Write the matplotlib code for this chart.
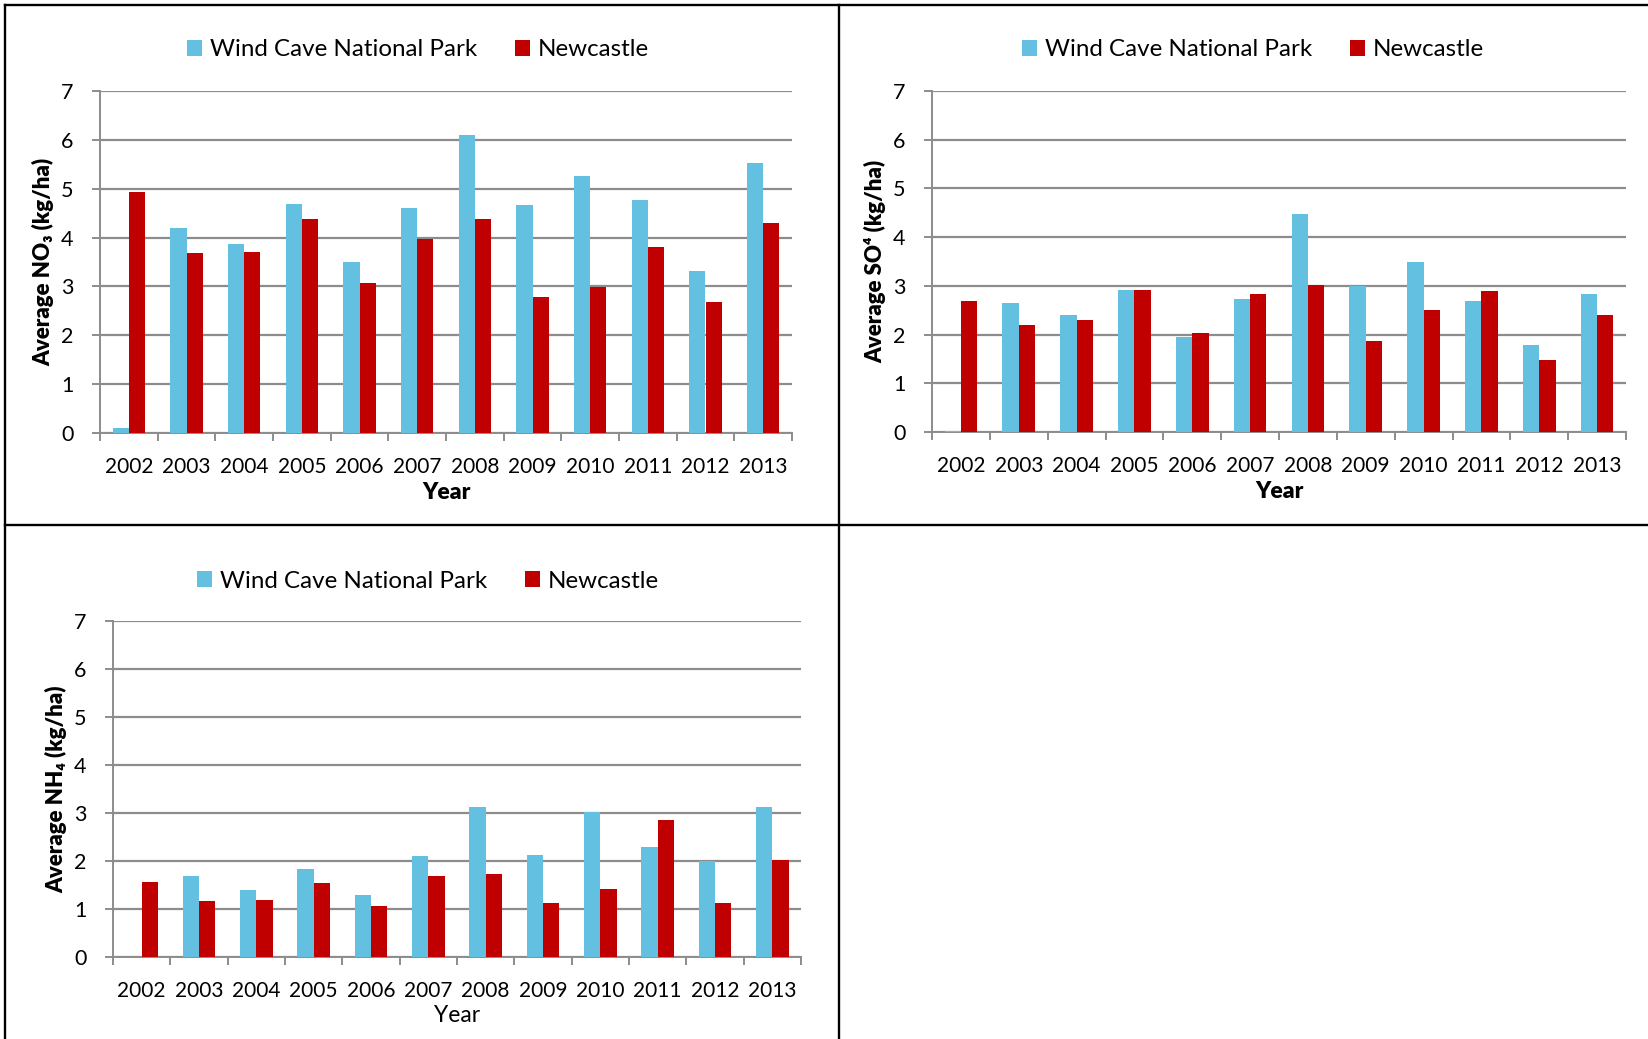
import matplotlib
matplotlib.use("Agg")
import matplotlib.pyplot as plt
from matplotlib.patches import Patch
from matplotlib.lines import Line2D
import numpy as np

plt.rcParams['font.family'] = ['Lato', 'DejaVu Sans']

years = ['2002', '2003', '2004', '2005', '2006', '2007',
         '2008', '2009', '2010', '2011', '2012', '2013']
series_names = ['Wind Cave National Park', 'Newcastle']

# deposition, kg/ha
no3_wind = [0.10, 4.20, 3.86, 4.68, 3.51, 4.60, 6.09, 4.67, 5.27, 4.77, 3.31, 5.52]
no3_newc = [4.94, 3.69, 3.70, 4.37, 3.06, 3.98, 4.39, 2.79, 2.99, 3.81, 2.69, 4.30]

so4_wind = [0.03, 2.64, 2.41, 2.92, 1.95, 2.74, 4.47, 3.00, 3.48, 2.69, 1.78, 2.83]
so4_newc = [2.69, 2.19, 2.30, 2.92, 2.04, 2.83, 3.01, 1.87, 2.51, 2.90, 1.47, 2.40]

nh4_wind = [0.00, 1.68, 1.39, 1.83, 1.30, 2.11, 3.13, 2.13, 3.03, 2.29, 2.00, 3.13]
nh4_newc = [1.57, 1.16, 1.18, 1.55, 1.07, 1.68, 1.73, 1.12, 1.41, 2.86, 1.12, 2.03]

BLUE = '#63C0E0'
RED = '#C00000'
GREY = '#8C8C8C'

W, H = 1648, 1039
fig = plt.figure(figsize=(W / 100, H / 100), dpi=100)


def px_axes(left, top, right, bottom):
    # pixel box -> figure fraction
    return fig.add_axes([left / W, 1 - bottom / H, (right - left) / W, (bottom - top) / H])


def bar_panel(ax, wind, newc, ylabel, ylabel_x, bold_year):
    x = np.arange(len(years))
    bw = 0.283
    ax.bar(x - bw / 2, wind, bw, color=BLUE, zorder=3)
    ax.bar(x + bw / 2, newc, bw, color=RED, zorder=3)

    ax.set_xlim(-0.5, len(years) - 0.5)
    ax.set_ylim(0, 7)
    ax.set_yticks(range(8))
    ax.yaxis.grid(True, color=GREY, lw=1.6, zorder=0)
    ax.set_axisbelow(True)

    ax.set_xticks(x)
    ax.set_xticklabels(years, fontsize=15)
    ax.set_xticks(np.arange(-0.5, len(years)), minor=True)
    ax.tick_params(axis='x', which='major', length=0, pad=17)
    ax.tick_params(axis='x', which='minor', length=6, width=1.4, color=GREY, direction='out')
    ax.tick_params(axis='y', length=6, width=1.4, color=GREY, pad=13, labelsize=15.5)

    for side in ['top', 'right']:
        ax.spines[side].set_visible(False)
    for side in ['left', 'bottom']:
        ax.spines[side].set_color(GREY)
        ax.spines[side].set_linewidth(1.4)

    ax.set_ylabel(ylabel, fontsize=16, fontweight='heavy')
    ax.yaxis.set_label_coords(ylabel_x, 0.5)
    ax.set_xlabel('Year', fontsize=16.5, fontweight='heavy' if bold_year else 'normal')
    ax.xaxis.set_label_coords(0.5, -0.143)


def panel_legend(cx, cy):
    handles = [Patch(facecolor=BLUE, edgecolor='none'), Patch(facecolor=RED, edgecolor='none')]
    fig.legend(handles, series_names, loc='center', bbox_to_anchor=(cx / W, 1 - cy / H),
               ncol=2, frameon=False, fontsize=17.4, handlelength=0.62, handleheight=0.62,
               handletextpad=0.35, columnspacing=1.55)


ax1 = px_axes(100, 91, 792, 433)
bar_panel(ax1, no3_wind, no3_newc, 'Average NO₃ (kg/ha)', -0.066, True)
panel_legend(418, 50)

ax2 = px_axes(932, 91, 1626, 432)
bar_panel(ax2, so4_wind, so4_newc, 'Average SO⁴ (kg/ha)', -0.066, True)
panel_legend(1253, 50)

ax3 = px_axes(113, 621, 801, 957)
bar_panel(ax3, nh4_wind, nh4_newc, 'Average NH₄ (kg/ha)', -0.067, False)
panel_legend(428, 581)

# black frame lines between the panels
frame = [((5, W), (5, 5)), ((5, 5), (5, H)), ((839, 839), (5, H)), ((5, W), (525, 525))]
for xs, ys in frame:
    fig.add_artist(Line2D([xs[0] / W, xs[1] / W], [1 - ys[0] / H, 1 - ys[1] / H],
                          color='black', lw=1.7, transform=fig.transFigure))

fig.savefig('out.png', dpi=100, facecolor='white')
